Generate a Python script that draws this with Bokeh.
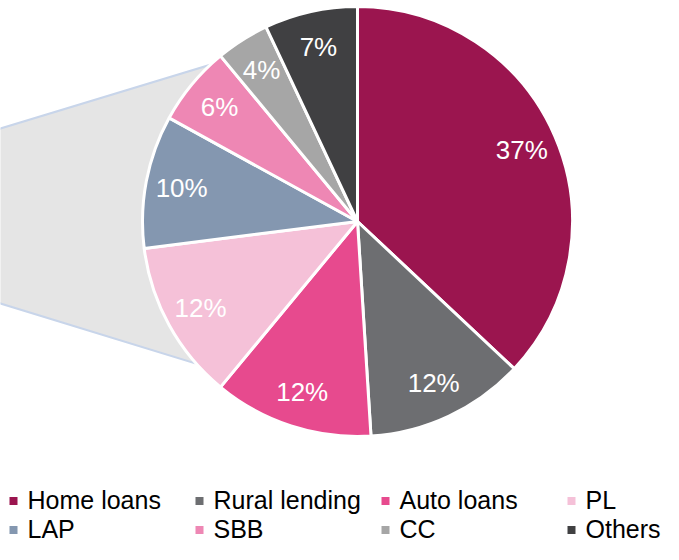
import math
from bokeh.plotting import figure
from bokeh.models import Range1d, ColumnDataSource
from bokeh.core.properties import value
from bokeh.embed import file_html
from bokeh.resources import INLINE

# ---- data ----
categories = ["Home loans", "Rural lending", "Auto loans", "PL", "LAP", "SBB", "CC", "Others"]
shares = [37, 12, 12, 12, 10, 6, 4, 7]
colors = ["#9B154F", "#6D6E71", "#E74A8E", "#F5C1D8", "#8497B0", "#EE87B4", "#A6A6A6", "#404042"]

# ---- layout (figure pixel units; data y = H - pixel_y) ----
W, H = 663, 544
def Y(py):
    return H - py

CX, CY, R = 357, 221, 215
LABEL_R = 179

p = figure(width=W, height=H, output_backend="svg", toolbar_location=None,
           x_range=Range1d(0, W), y_range=Range1d(Y(H), Y(0)),
           min_border=0, outline_line_color=None)
p.axis.visible = False
p.grid.visible = False
p.background_fill_color = "white"
p.border_fill_color = "white"

# connector band (decoration behind the pie)
def edge_point(frac):
    a = 2 * math.pi * frac
    return CX + R * math.sin(a), CY - R * math.cos(a)

tx, ty = edge_point(0.88)
bx, by = edge_point(0.635)
lx, ly_top, ly_bot = 0, 128, 303
def extend(x0, y0, x1, y1, x):
    return y0 + (y1 - y0) * (x - x0) / (x1 - x0)
xl = -10
xr = CX - 90
poly_x = [xl, xr, xr, xl]
poly_y = [extend(lx, ly_top, tx, ty, xl), extend(lx, ly_top, tx, ty, xr),
          extend(lx, ly_bot, bx, by, xr), extend(lx, ly_bot, bx, by, xl)]
p.patch(poly_x, [Y(v) for v in poly_y], fill_color="#E5E5E5", line_color="#C8D5EA", line_width=2)

# pie
total = float(sum(shares))
starts, ends, lx_, ly_, labels = [], [], [], [], []
cum = 0.0
for s in shares:
    f0 = cum / total
    f1 = (cum + s) / total
    starts.append(math.pi / 2 - 2 * math.pi * f0)
    ends.append(math.pi / 2 - 2 * math.pi * f1)
    mid = 2 * math.pi * (f0 + f1) / 2
    lx_.append(CX + LABEL_R * math.sin(mid))
    ly_.append(Y(CY - LABEL_R * math.cos(mid)))
    labels.append(f"{s}%")
    cum += s

src = ColumnDataSource(dict(start=starts, end=ends, color=colors, cat=categories,
                            lx=lx_, ly=ly_, label=labels))
p.wedge(x=CX, y=Y(CY), radius=R, start_angle="start", end_angle="end", direction="clock",
        fill_color="color", line_color="white", line_width=3, source=src)
p.text(x="lx", y="ly", text="label", source=src, text_color="white",
       text_font=value("Liberation Sans"), text_font_size="26px",
       text_align="center", text_baseline="middle")

# legend (manual, 4 columns x 2 rows)
col_x = [13, 199, 385, 571]
row_y = [499, 528]
mx, my, tx_, ty_ = [], [], [], []
for i, c in enumerate(categories):
    r, k = divmod(i, 4)
    mx.append(col_x[k])
    my.append(Y(row_y[r] + 1.5))
    tx_.append(col_x[k] + 14)
    ty_.append(Y(row_y[r]))
lsrc = ColumnDataSource(dict(mx=mx, my=my, tx=tx_, ty=ty_, color=colors, cat=categories))
p.rect(x="mx", y="my", width=8, height=8, fill_color="color", line_color=None, source=lsrc)
p.text(x="tx", y="ty", text="cat", source=lsrc, text_color="black",
       text_font=value("Liberation Sans"), text_font_size="25px",
       text_align="left", text_baseline="middle")

open("out.html", "w").write(file_html(p, INLINE))
